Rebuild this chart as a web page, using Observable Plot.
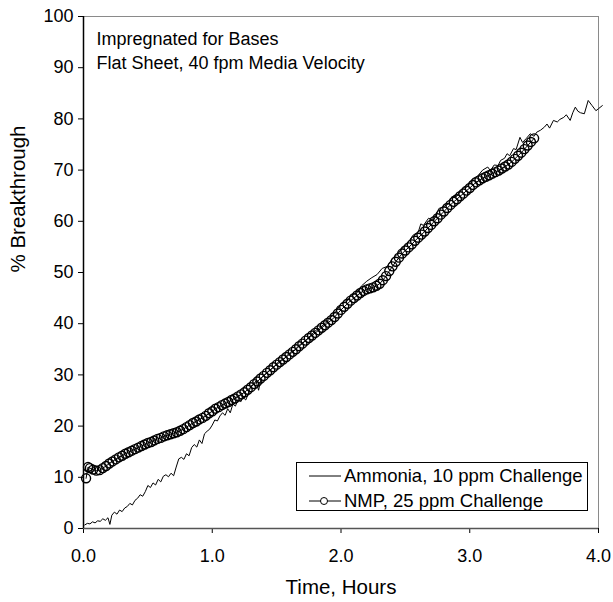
<!DOCTYPE html>
<html>
<head>
<meta charset="utf-8">
<script src="https://cdn.jsdelivr.net/npm/d3@7"></script>
<script src="https://cdn.jsdelivr.net/npm/@observablehq/plot@0.6"></script>
<style>
  html, body { margin: 0; padding: 0; background: #fff; }
  #wrap { position: relative; width: 613px; height: 602px; font-family: "Liberation Sans", Arial, sans-serif; }
  #legend { position: absolute; left: 296px; top: 462px; width: 292px; height: 49px; border: 1px solid #000; background: #fff; font-size: 18.5px; color: #000; box-sizing: border-box; }
  #legend .row { position: absolute; left: 11px; height: 24px; display: flex; align-items: center; white-space: nowrap; }
  #legend svg { margin-right: 2px; }
</style>
</head>
<body>
<div id="wrap"></div>
<script>
// ---- Data ----
const ammoniaTime = [0.01,0.03,0.05,0.07,0.09,0.11,0.13,0.15,0.17,0.19,0.205,0.22,0.24,0.26,0.28,0.30,0.32,0.34,0.36,0.38,0.40,0.42,0.44,0.46,0.48,0.50,0.52,0.54,0.56,0.58,0.60,0.62,0.64,0.66,0.68,0.70,0.72,0.74,0.76,0.78,0.80,0.82,0.84,0.86,0.88,0.90,0.92,0.94,0.96,0.98,1.00,1.02,1.04,1.06,1.08,1.10,1.12,1.14,1.16,1.18,1.20,1.22,1.24,1.26,1.28,1.30,1.32,1.34,1.36,1.38,1.40,1.44,1.48,1.52,1.56,1.60,1.64,1.68,1.72,1.76,1.80,1.84,1.88,1.92,1.96,2.00,2.04,2.08,2.12,2.16,2.20,2.24,2.28,2.32,2.36,2.40,2.44,2.48,2.52,2.56,2.60,2.62,2.64,2.68,2.72,2.76,2.80,2.84,2.86,2.90,2.94,2.98,3.02,3.06,3.10,3.14,3.16,3.19,3.22,3.24,3.27,3.29,3.31,3.34,3.36,3.39,3.41,3.44,3.47,3.50,3.52,3.55,3.58,3.60,3.62,3.65,3.68,3.70,3.73,3.75,3.78,3.80,3.82,3.84,3.86,3.89,3.92,3.95,3.98,4.00,4.03];
const ammoniaValue = [0.7,1.0,0.9,1.3,1.1,1.5,1.4,1.9,1.6,2.1,0.8,2.6,3.2,2.8,3.6,3.3,4.0,4.3,4.9,4.6,5.5,5.9,6.6,6.3,7.2,8.4,8.0,8.9,8.5,9.6,9.1,10.2,10.5,10.1,10.8,10.3,12.0,13.6,13.9,13.5,14.6,14.2,15.8,16.4,15.9,17.3,16.6,18.5,19.0,19.4,20.2,21.2,21.0,22.0,22.6,22.1,23.4,22.6,24.3,23.9,25.2,24.7,25.6,25.1,26.3,27.8,28.2,28.8,27.0,29.4,29.9,30.8,31.6,32.7,33.2,34.3,34.9,35.9,36.6,37.6,38.6,39.3,40.1,41.2,42.4,43.9,44.2,45.6,45.9,47.4,48.3,49.0,49.6,50.8,51.2,52.8,53.6,54.9,55.8,57.3,57.9,59.5,59.2,60.6,60.2,62.5,62.9,63.5,64.8,64.9,66.4,66.7,68.3,68.8,70.0,70.6,69.9,71.0,70.9,71.9,72.3,73.2,72.8,74.2,74.0,76.4,75.4,76.2,77.1,76.6,77.4,77.8,78.4,79.0,78.2,79.7,79.4,79.9,80.3,80.8,79.7,81.2,82.3,81.5,81.2,81.0,83.6,82.6,81.6,82.0,82.6];

const nmpTime = [0.02,0.035,0.050,0.075,0.100,0.125,0.150,0.175,0.200,0.225,0.250,0.275,0.300,0.325,0.350,0.375,0.400,0.425,0.450,0.475,0.500,0.525,0.550,0.575,0.600,0.625,0.650,0.675,0.700,0.725,0.750,0.775,0.800,0.825,0.850,0.875,0.900,0.925,0.950,0.975,1.000,1.025,1.050,1.075,1.100,1.125,1.150,1.175,1.200,1.225,1.250,1.275,1.300,1.325,1.350,1.375,1.400,1.425,1.450,1.475,1.500,1.525,1.550,1.575,1.600,1.625,1.650,1.675,1.700,1.725,1.750,1.775,1.800,1.825,1.850,1.875,1.900,1.925,1.950,1.975,2.000,2.025,2.050,2.075,2.100,2.125,2.150,2.175,2.200,2.225,2.250,2.275,2.300,2.325,2.350,2.375,2.400,2.425,2.450,2.475,2.500,2.525,2.550,2.575,2.600,2.625,2.650,2.675,2.700,2.725,2.750,2.775,2.800,2.825,2.850,2.875,2.900,2.925,2.950,2.975,3.000,3.025,3.050,3.075,3.100,3.125,3.150,3.175,3.200,3.225,3.250,3.275,3.300,3.325,3.350,3.375,3.400,3.425,3.450,3.475,3.500];
const nmpValue = [9.8,12.0,11.8,11.5,11.3,11.4,11.8,12.2,12.7,13.1,13.5,13.9,14.2,14.6,14.9,15.2,15.5,15.8,16.1,16.4,16.7,16.9,17.2,17.5,17.7,18.0,18.2,18.4,18.6,18.8,19.1,19.4,19.8,20.2,20.6,20.9,21.3,21.6,22.0,22.5,22.9,23.4,23.7,24.1,24.4,24.7,25.1,25.4,25.8,26.2,26.6,27.1,27.6,28.2,28.7,29.3,29.8,30.4,30.9,31.5,32.0,32.5,33.0,33.5,34.0,34.5,35.0,35.6,36.1,36.7,37.2,37.7,38.2,38.7,39.2,39.7,40.2,40.7,41.3,42.0,42.7,43.3,43.9,44.5,45.0,45.5,46.0,46.4,46.7,46.9,47.1,47.4,47.8,48.5,49.3,50.3,51.2,52.1,52.9,53.7,54.3,54.9,55.5,56.2,56.8,57.4,58.0,58.7,59.3,60.0,60.6,61.3,61.9,62.6,63.2,63.8,64.3,64.9,65.4,66.0,66.5,67.1,67.6,68.0,68.4,68.7,69.0,69.3,69.6,69.9,70.3,70.7,71.1,71.6,72.2,72.8,73.4,74.1,74.8,75.5,76.2];

const xTicks = [0, 1, 2, 3, 4];
const yTicks = [0, 10, 20, 30, 40, 50, 60, 70, 80, 90, 100];
const seriesNames = ["Ammonia, 10 ppm Challenge", "NMP, 25 ppm Challenge"];
const noteLines = ["Impregnated for Bases", "Flat Sheet, 40 fpm Media Velocity"];
const xLabel = "Time, Hours";
const yLabel = "% Breakthrough";

const ammonia = ammoniaTime.map((t, i) => ({t, v: ammoniaValue[i]}));
const nmp = nmpTime.map((t, i) => ({t, v: nmpValue[i]}));

const chart = Plot.plot({
  width: 613,
  height: 602,
  marginLeft: 83,
  marginRight: 15,
  marginTop: 16,
  marginBottom: 74,
  style: {fontFamily: "'Liberation Sans', Arial, sans-serif", fontSize: "18px", color: "#000", background: "#fff", overflow: "visible"},
  x: {domain: [0, 4]},
  y: {domain: [0, 100]},
  marks: [
    Plot.frame({stroke: "#8a8a8a"}),
    Plot.axisX({ticks: xTicks, tickFormat: d3.format(".1f"), tickSize: 5, tickPadding: 16, fontSize: 18,
      label: null}),
    Plot.axisY({ticks: yTicks, tickSize: 5, tickPadding: 5, fontSize: 18, label: null}),
    Plot.text([xLabel], {frameAnchor: "bottom", dy: 65, fontSize: 20.5, fill: "#000"}),
    Plot.text([yLabel], {frameAnchor: "left", dx: -65, rotate: -90, fontSize: 20.5, fill: "#000"}),
    Plot.ruleY([0], {stroke: "#555", strokeWidth: 1.5}),
    Plot.ruleX([0], {stroke: "#000", strokeWidth: 1.5}),
    Plot.line(ammonia, {x: "t", y: "v", stroke: "#000", strokeWidth: 1}),
    Plot.line(nmp, {x: "t", y: "v", stroke: "#000", strokeWidth: 1}),
    Plot.dot(nmp, {x: "t", y: "v", r: 4.5, stroke: "#000", strokeWidth: 1.4, fill: "none"}),
    Plot.text([noteLines.join("\n")], {frameAnchor: "top-left", dx: 13, dy: 12, fontSize: 18, lineHeight: 1.33, textAnchor: "start", fill: "#000"})
  ]
});

const wrap = document.getElementById("wrap");
wrap.appendChild(chart);

// legend
const legend = document.createElement("div");
legend.id = "legend";
seriesNames.forEach((name, i) => {
  const row = document.createElement("div");
  row.className = "row";
  row.style.top = (i === 0 ? 1 : 26) + "px";
  const ns = "http://www.w3.org/2000/svg";
  const svg = document.createElementNS(ns, "svg");
  svg.setAttribute("width", 34); svg.setAttribute("height", 12);
  const ln = document.createElementNS(ns, "line");
  ln.setAttribute("x1", 1); ln.setAttribute("x2", 33); ln.setAttribute("y1", 6); ln.setAttribute("y2", 6);
  ln.setAttribute("stroke", "#000"); ln.setAttribute("stroke-width", 1);
  svg.appendChild(ln);
  if (i === 1) {
    const c = document.createElementNS(ns, "circle");
    c.setAttribute("cx", 16); c.setAttribute("cy", 6); c.setAttribute("r", 3.5);
    c.setAttribute("fill", "#fff"); c.setAttribute("stroke", "#000"); c.setAttribute("stroke-width", 1);
    svg.appendChild(c);
  }
  row.appendChild(svg);
  const sp = document.createElement("span");
  sp.textContent = name;
  row.appendChild(sp);
  legend.appendChild(row);
});
wrap.appendChild(legend);
</script>
</body>
</html>
